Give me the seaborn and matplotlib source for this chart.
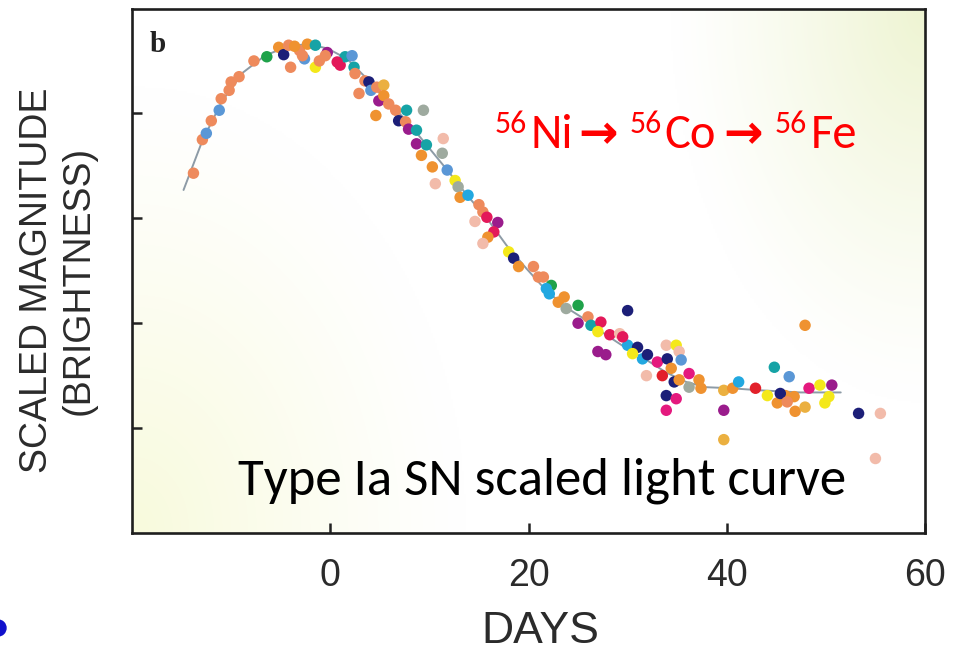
import numpy as np
import pandas as pd
import matplotlib
matplotlib.use("Agg")
import matplotlib.pyplot as plt
from matplotlib import font_manager
from matplotlib.patches import Ellipse
import seaborn as sns

# Template light curve (days from maximum, scaled magnitude)
template_days = [-14.8, -12.9, -10.9, -8.8, -6.6, -4.3, -2.3, -0.3, 1.7, 3.7,
                 5.7, 7.7, 9.8, 11.8, 13.8, 15.8, 17.8, 19.8, 21.8, 23.8,
                 25.8, 27.8, 29.9, 31.9, 33.9, 35.9, 37.9, 40.4, 43.4, 47.4, 51.5]
template_mag = [1.73, 1.26, 0.88, 0.61, 0.45, 0.36, 0.34, 0.38, 0.48, 0.67,
                0.88, 1.07, 1.31, 1.54, 1.78, 2.00, 2.26, 2.48, 2.69, 2.85,
                2.97, 3.11, 3.24, 3.35, 3.47, 3.56, 3.61, 3.62, 3.64, 3.66, 3.66]

# Photometry of the individual supernovae
obs_days = [-13.8, -12.9, -12.5, -12.0, -11.2, -11.0, -10.2, -10.0, -9.2, -7.7,
            -6.4, -5.2, -4.7, -4.0, -4.2, -3.1, -2.3, -1.5, -1.5, -1.1,
            -0.3, 1.0, 1.5, 2.2, 2.9, 3.5, -2.6, -0.5, 0.7, 2.4,
            2.5, 3.9, 4.1, 4.7, 5.4, 4.9, 5.4, 5.9, 4.6, 6.6,
            6.9, 7.7, 9.4, 7.6, 7.9, 8.7, 8.7, 9.7, 9.2, 11.4,
            11.3, 10.3, 10.6, 11.8, 12.6, 12.9, 13.1, 13.9, 15.0, 15.4,
            15.8, 14.6, 16.9, 16.5, 15.9, 15.4, 18.0, 18.5, 19.0, 20.5,
            21.0, 21.5, 22.3, 21.8, 22.1, 23.6, 23.0, 23.8, 25.0, 26.0,
            25.0, 26.3, 27.3, 27.0, 28.2, 29.2, 30.0, 27.0, 27.8, 30.0,
            31.0, 31.5, 32.0, 31.9, 29.5, 30.5, 33.0, 33.9, 34.9, 35.2,
            34.0, 35.4, 33.5, 34.4, 36.2, 34.7, 35.2, 36.2, 37.2, 37.4,
            33.9, 34.9, 33.9, 39.7, 39.7, 39.7, 40.6, 41.2, 42.9, 44.1,
            44.8, 46.3, 45.1, 45.9, 45.4, 46.8, 46.1, 46.9, 47.9, 47.9,
            48.3, 49.4, 50.6, 50.3, 49.9, 53.3, 55.5, 55.0, -3.6, -2.8]
obs_mag = [1.57, 1.25, 1.19, 1.07, 0.97, 0.86, 0.78, 0.70, 0.65, 0.50,
           0.46, 0.37, 0.44, 0.56, 0.35, 0.40, 0.34, 0.35, 0.56, 0.50,
           0.42, 0.54, 0.46, 0.45, 0.81, 0.69, 0.48, 0.45, 0.51, 0.56,
           0.62, 0.70, 0.78, 0.75, 0.73, 0.88, 0.83, 0.91, 1.02, 0.97,
           1.07, 0.97, 0.97, 1.08, 1.15, 1.16, 1.29, 1.30, 1.40, 1.24,
           1.38, 1.51, 1.67, 1.54, 1.64, 1.70, 1.80, 1.78, 1.87, 1.94,
           1.99, 2.03, 2.04, 2.13, 2.18, 2.24, 2.32, 2.38, 2.46, 2.46,
           2.56, 2.56, 2.64, 2.67, 2.72, 2.75, 2.80, 2.86, 2.83, 2.94,
           3.00, 3.02, 2.99, 3.08, 3.11, 3.10, 2.88, 3.27, 3.30, 3.21,
           3.23, 3.34, 3.30, 3.50, 3.13, 3.29, 3.37, 3.21, 3.21, 3.27,
           3.34, 3.35, 3.50, 3.43, 3.48, 3.56, 3.54, 3.61, 3.54, 3.62,
           3.69, 3.72, 3.83, 3.83, 4.11, 3.64, 3.62, 3.56, 3.62, 3.69,
           3.42, 3.51, 3.76, 3.69, 3.67, 3.70, 3.75, 3.84, 3.80, 3.02,
           3.62, 3.59, 3.59, 3.70, 3.76, 3.86, 3.86, 4.29, 0.36, 0.45]
obs_sn = ["salmon", "salmon", "lightblue", "salmon", "lightblue", "salmon", "salmon", "salmon", "salmon", "salmon",
          "green", "orange", "navy", "salmon", "salmon", "salmon", "orange", "teal", "yellow", "salmon",
          "purple", "crimson", "teal", "lightblue", "salmon", "salmon", "lightblue", "salmon", "crimson", "teal",
          "salmon", "navy", "lightblue", "salmon", "gold", "purple", "orange", "salmon", "orange", "salmon",
          "navy", "teal", "grey", "salmon", "purple", "teal", "purple", "teal", "orange", "palepink",
          "grey", "orange", "palepink", "lightblue", "yellow", "grey", "orange", "skyblue", "salmon", "salmon",
          "crimson", "palepink", "purple", "crimson", "orange", "palepink", "yellow", "navy", "orange", "salmon",
          "salmon", "salmon", "green", "skyblue", "skyblue", "orange", "orange", "grey", "green", "salmon",
          "purple", "teal", "crimson", "yellow", "crimson", "palepink", "navy", "purple", "purple", "skyblue",
          "navy", "skyblue", "navy", "palepink", "crimson", "yellow", "hotpink", "palepink", "yellow", "palepink",
          "navy", "lightblue", "red", "orange", "hotpink", "navy", "orange", "grey", "orange", "orange",
          "navy", "hotpink", "hotpink", "purple", "gold", "gold", "orange", "skyblue", "red", "yellow",
          "teal", "lightblue", "orange", "orange", "navy", "orange", "salmon", "orange", "gold", "orange",
          "hotpink", "yellow", "purple", "yellow", "yellow", "navy", "palepink", "palepink", "orange", "salmon"]

sn_colours = {
    "salmon": "#EE8A5C", "orange": "#EF9230", "green": "#1FA24A", "navy": "#1C1F78",
    "teal": "#16A3A6", "skyblue": "#22A8E0", "lightblue": "#5A97D6", "yellow": "#F4E81A",
    "crimson": "#E3195A", "purple": "#9A1C8C", "hotpink": "#E4197E", "red": "#E2202A",
    "palepink": "#F2BBAA", "grey": "#9EAA9F", "gold": "#EBB040",
}

sns.set_theme(style="white")

installed = {f.name for f in font_manager.fontManager.ttflist}


def pick(*names):
    for n in names:
        if n in installed:
            return n
    return "DejaVu Sans"


AXIS_FONT = pick("Liberation Sans Narrow", "Liberation Sans", "Arial")
NOTE_FONT = pick("Carlito", "Calibri", "Lato", "Open Sans")
SERIF_FONT = pick("Liberation Serif", "DejaVu Serif")

W, H = 971, 651
fig = plt.figure(figsize=(W / 100, H / 100), dpi=100)
fig.patch.set_facecolor("white")
L, R, T, B = 132, 925, 8.5, 533
ax = fig.add_axes([L / W, 1 - B / H, (R - L) / W, (B - T) / H])

# soft pastel wash behind the data
nx, ny = 400, 300
u = np.linspace(0, 1, nx)[None, :]
v = np.linspace(1, 0, ny)[:, None]
a = np.clip(1 - np.hypot(u / 0.42, v / 0.85), 0, 1) ** 1.2
b = np.clip(1 - np.hypot((1 - u) / 0.32, (1 - v) / 0.75), 0, 1) ** 1.2
c1 = np.array([248, 250, 220]) / 255
c2 = np.array([238, 244, 210]) / 255
img = np.ones((ny, nx, 3)) * (1 - a[..., None]) + c1 * a[..., None]
img = img * (1 - b[..., None]) + c2 * b[..., None]
ax.imshow(img, extent=(-20, 60, 5, 0), aspect="auto", zorder=0,
          interpolation="bilinear")

sns.lineplot(x=template_days, y=template_mag, sort=False, color="#8D9BA6",
             lw=1.4, ax=ax, zorder=2)
df = pd.DataFrame({"day": obs_days, "mag": obs_mag, "sn": obs_sn})
sns.scatterplot(data=df, x="day", y="mag", hue="sn", palette=sn_colours, s=68,
                linewidth=0, legend=False, ax=ax, zorder=3)

ax.set_xlim(-20, 60)
ax.set_ylim(5, 0)
ax.set_xticks([0, 20, 40, 60])
ax.set_yticks([1, 2, 3, 4])
ax.set_yticklabels([])
ax.tick_params(direction="in", length=7, width=1.8, color="#222222",
               bottom=True, left=True, top=False, right=False,
               labelsize=27, labelcolor="#2B2B2B", pad=18)
for lab in ax.get_xticklabels():
    lab.set_fontfamily(AXIS_FONT)
for sp in ax.spines.values():
    sp.set_color("#1E1E1E")
    sp.set_linewidth(1.9)
    sp.set_visible(True)

ax.set_xlabel("DAYS", fontsize=32, fontfamily=AXIS_FONT, color="#2B2B2B")
ax.xaxis.label.set_va("baseline")
ax.xaxis.set_label_coords((540 - L) / (R - L), (B - 643) / (B - T))
ax.set_ylabel("SCALED MAGNITUDE\n(BRIGHTNESS)", fontsize=27, fontfamily=AXIS_FONT,
              color="#2B2B2B", linespacing=1.2)
ax.yaxis.label.set_va("center")
ax.yaxis.set_label_coords((58 - L) / (R - L), (B - 280) / (B - T))

# panel letter
fig.text(150 / W, 1 - 52 / H, "b", fontfamily=SERIF_FONT, fontweight="bold",
         fontsize=21, color="#222222", va="baseline", ha="left")

renderer = fig.canvas.get_renderer()


def put(x, y, s, size, **kw):
    return fig.text(x / W, 1 - y / H, s, fontsize=size, va="baseline", ha="left", **kw)


# caption fitted to its span
cap = put(238, 495, "Type Ia SN scaled light curve", 32, fontfamily=NOTE_FONT, color="black")
wcap = cap.get_window_extent(renderer).width
cap.set_fontsize(32 * 610 / wcap)

# decay chain
RED = "#FF0000"
for x, s in [(495, "56"), (630, "56"), (775, "56")]:
    put(x, 133, s, 23, fontfamily=NOTE_FONT, color=RED)
for x, s in [(530, "Ni"), (664, "Co"), (811, "Fe")]:
    put(x, 148, s, 35, fontfamily=NOTE_FONT, color=RED)
for x in (578, 723):
    put(x, 148, "\u2192", 34, fontfamily=["DejaVu Sans"], fontweight="bold", color=RED)

# slide bullet at the lower-left edge
fig.add_artist(Ellipse((-2 / W, 1 - 628 / H), 16 / W, 16 / H,
                       transform=fig.transFigure, color="#1010CC"))

fig.savefig("out.png", dpi=100, facecolor="white")
